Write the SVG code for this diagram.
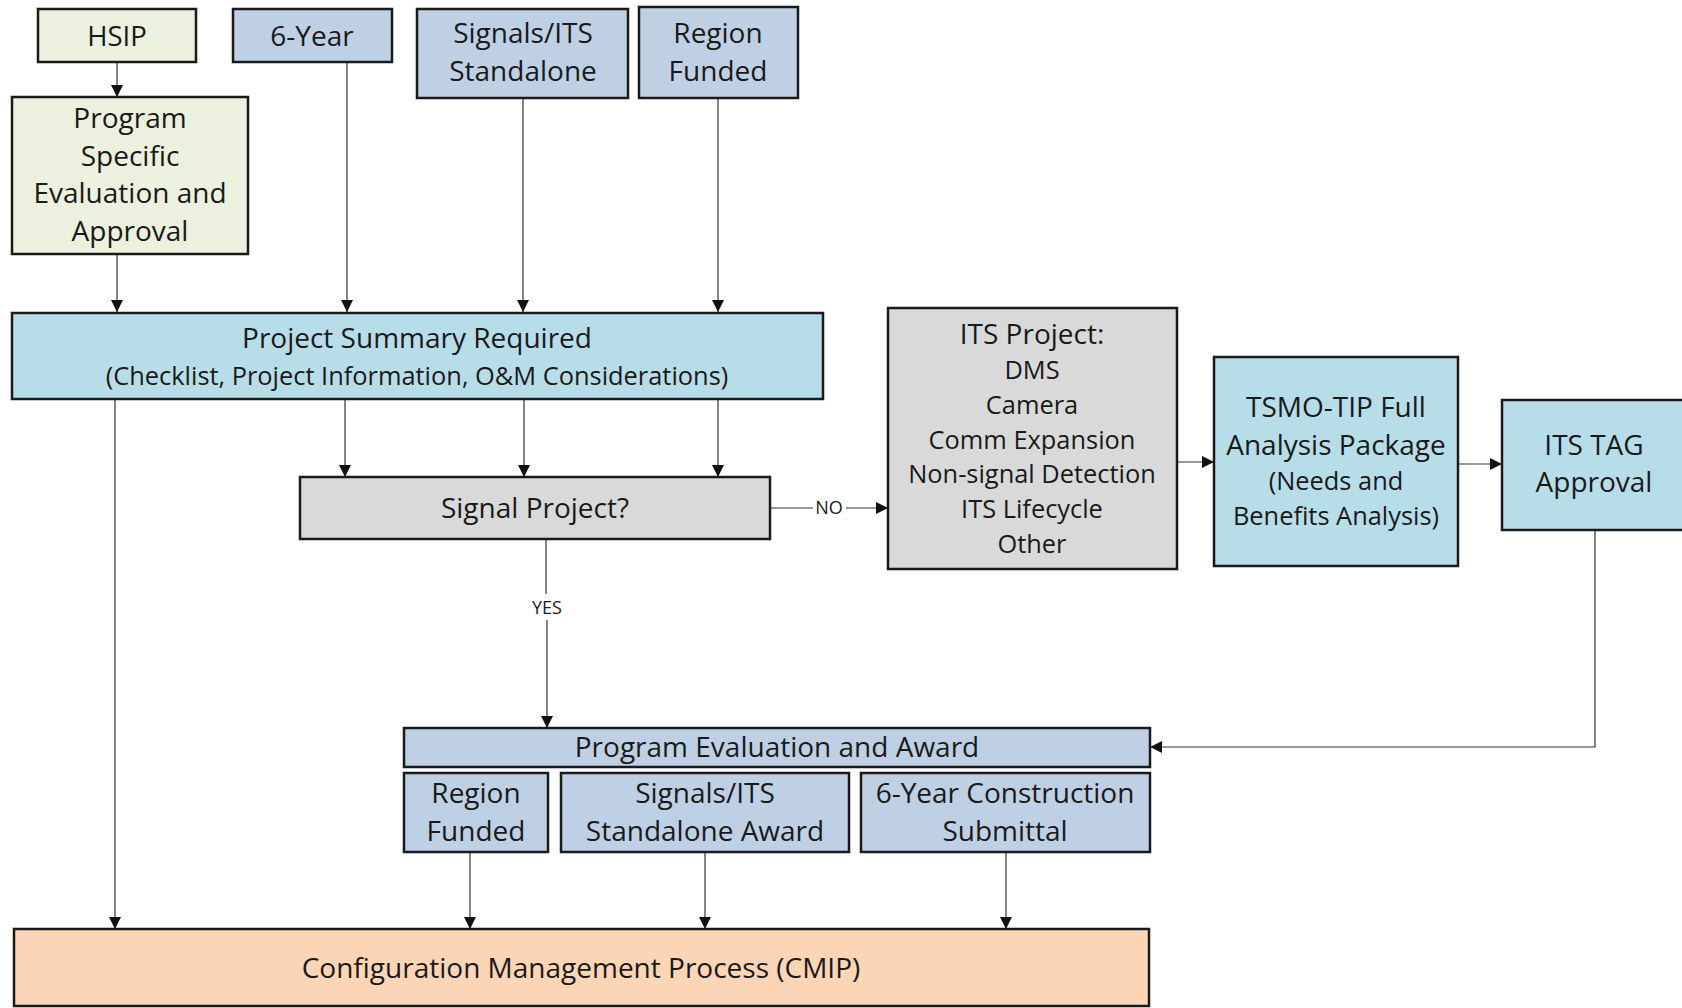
<svg xmlns="http://www.w3.org/2000/svg" width="1682" height="1008" viewBox="0 0 1682 1008">
<style>
  .box { stroke: #1a1a1a; stroke-width: 2.5; }
  .green { fill: #EBF1DE; }
  .blue { fill: #BFD0E5; }
  .cyan { fill: #B7DEE8; }
  .gray { fill: #D9D9D9; }
  .peach { fill: #FBD5B5; }
  text { font-family: "Open Sans", Lato, "Liberation Sans", sans-serif; fill: #1a1a1a; text-anchor: middle; }
  .t27 { font-size: 28px; }
  .t26 { font-size: 27.5px; }
  .t24 { font-size: 25.4px; }
  .lbl { font-size: 18px; }
  .conn { stroke: #333; stroke-width: 1.2; fill: none; marker-end: url(#arr); }
  .line { stroke: #333; stroke-width: 1.2; fill: none; }
</style>
<defs>
  <marker id="arr" viewBox="0 0 12 12" markerWidth="12" markerHeight="12" refX="12" refY="6" orient="auto" markerUnits="userSpaceOnUse">
    <path d="M0,0 L12,6 L0,12 Z" fill="#111"/>
  </marker>
</defs>
<rect width="1682" height="1008" fill="#fff"/>

<g id="connectors">
  <line class="conn" x1="117" y1="62" x2="117" y2="97"/>
  <line class="conn" x1="117" y1="254" x2="117" y2="312"/>
  <line class="conn" x1="347" y1="62" x2="347" y2="312"/>
  <line class="conn" x1="523" y1="98" x2="523" y2="312"/>
  <line class="conn" x1="718" y1="98" x2="718" y2="312"/>
  <line class="conn" x1="345" y1="399" x2="345" y2="477"/>
  <line class="conn" x1="524" y1="399" x2="524" y2="477"/>
  <line class="conn" x1="718" y1="399" x2="718" y2="477"/>
  <line class="conn" x1="115" y1="399" x2="115" y2="929"/>
  <line class="line" x1="770" y1="508" x2="813" y2="508"/>
  <line class="conn" x1="846" y1="508" x2="888" y2="508"/>
  <text class="lbl" x="829" y="514">NO</text>
  <line class="line" x1="546" y1="539" x2="546" y2="594"/>
  <line class="conn" x1="547" y1="620" x2="547" y2="728"/>
  <text class="lbl" x="547" y="614">YES</text>
  <line class="conn" x1="1177" y1="462" x2="1214" y2="462"/>
  <line class="conn" x1="1458" y1="464" x2="1502" y2="464"/>
  <polyline class="conn" points="1595,530 1595,747 1150,747"/>
  <line class="conn" x1="470" y1="852" x2="470" y2="929"/>
  <line class="conn" x1="705" y1="852" x2="705" y2="929"/>
  <line class="conn" x1="1006" y1="852" x2="1006" y2="929"/>
</g>

<g id="hsip">
  <rect class="box green" x="38" y="9" width="158" height="53"/>
  <text class="t26" x="117" y="46">HSIP</text>
</g>
<g id="six-year">
  <rect class="box blue" x="233" y="9" width="159" height="53"/>
  <text class="t27" x="312" y="46">6-Year</text>
</g>
<g id="signals-standalone">
  <rect class="box blue" x="417" y="9" width="211" height="89"/>
  <text class="t27" x="523" y="43">Signals/ITS</text>
  <text class="t27" x="523" y="81">Standalone</text>
</g>
<g id="region-funded-top">
  <rect class="box blue" x="639" y="7" width="159" height="91"/>
  <text class="t27" x="718" y="43">Region</text>
  <text class="t27" x="718" y="81">Funded</text>
</g>
<g id="program-specific">
  <rect class="box green" x="12" y="97" width="236" height="157"/>
  <text class="t27" x="130" y="128">Program</text>
  <text class="t27" x="130" y="166">Specific</text>
  <text class="t27" x="130" y="203">Evaluation and</text>
  <text class="t27" x="130" y="241">Approval</text>
</g>
<g id="project-summary">
  <rect class="box cyan" x="12" y="313" width="811" height="86"/>
  <text class="t27" x="417" y="348">Project Summary Required</text>
  <text class="t24" x="417" y="385">(Checklist, Project Information, O&amp;M Considerations)</text>
</g>
<g id="signal-project">
  <rect class="box gray" x="300" y="477" width="470" height="62"/>
  <text class="t27" x="535" y="518">Signal Project?</text>
</g>
<g id="its-project">
  <rect class="box gray" x="888" y="308" width="289" height="261"/>
  <text class="t27" x="1032" y="344">ITS Project:</text>
  <text class="t24" x="1032" y="379">DMS</text>
  <text class="t24" x="1032" y="414">Camera</text>
  <text class="t24" x="1032" y="449">Comm Expansion</text>
  <text class="t24" x="1032" y="483">Non-signal Detection</text>
  <text class="t24" x="1032" y="518">ITS Lifecycle</text>
  <text class="t24" x="1032" y="553">Other</text>
</g>
<g id="tsmo-tip">
  <rect class="box cyan" x="1214" y="357" width="244" height="209"/>
  <text class="t27" x="1336" y="417">TSMO-TIP Full</text>
  <text class="t27" x="1336" y="455">Analysis Package</text>
  <text class="t24" x="1336" y="490">(Needs and</text>
  <text class="t24" x="1336" y="525">Benefits Analysis)</text>
</g>
<g id="its-tag">
  <rect class="box cyan" x="1502" y="400" width="185" height="130"/>
  <text class="t27" x="1594" y="455">ITS TAG</text>
  <text class="t27" x="1594" y="492">Approval</text>
</g>
<g id="program-evaluation">
  <rect class="box blue" x="404" y="728" width="746" height="39"/>
  <text class="t27" x="777" y="757">Program Evaluation and Award</text>
</g>
<g id="region-funded-bottom">
  <rect class="box blue" x="404" y="773" width="144" height="79"/>
  <text class="t27" x="476" y="803">Region</text>
  <text class="t27" x="476" y="841">Funded</text>
</g>
<g id="signals-award">
  <rect class="box blue" x="561" y="773" width="288" height="79"/>
  <text class="t27" x="705" y="803">Signals/ITS</text>
  <text class="t27" x="705" y="841">Standalone Award</text>
</g>
<g id="six-year-construction">
  <rect class="box blue" x="861" y="773" width="289" height="79"/>
  <text class="t27" x="1005" y="803">6-Year Construction</text>
  <text class="t27" x="1005" y="841">Submittal</text>
</g>
<g id="cmip">
  <rect class="box peach" x="14" y="929" width="1135" height="77"/>
  <text class="t27" x="581" y="978">Configuration Management Process (CMIP)</text>
</g>
</svg>
